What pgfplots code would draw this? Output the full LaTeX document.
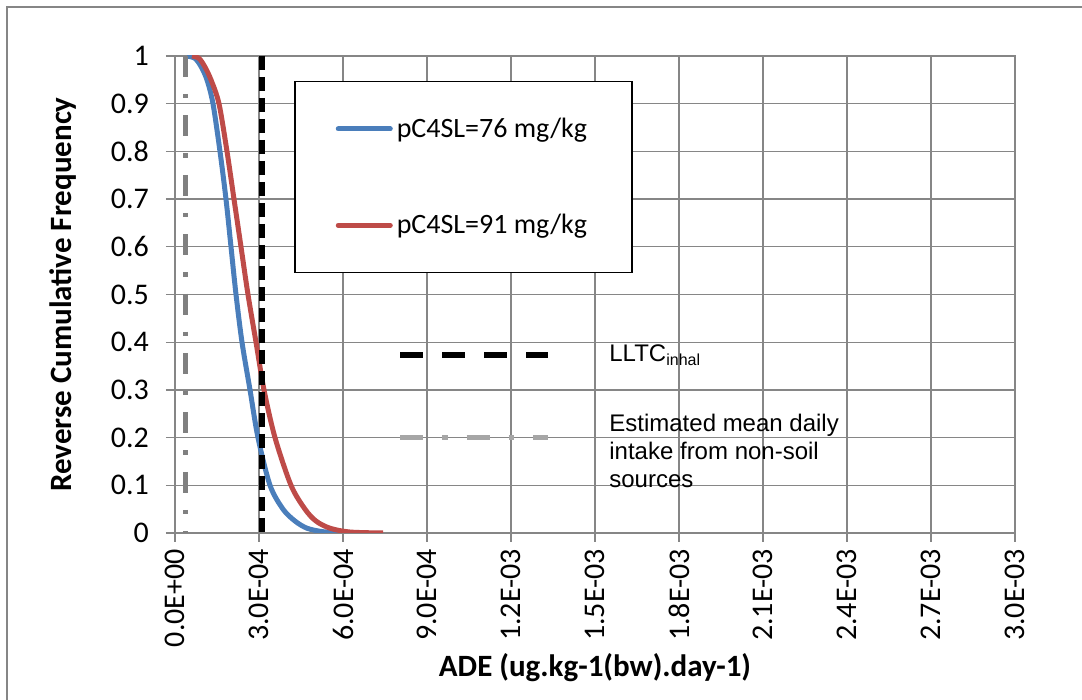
\documentclass[border=0pt]{standalone}
\usepackage{fontspec}
\setmainfont{Carlito}
\newfontfamily\arial{Liberation Sans}
\usepackage{pgfplots}
\pgfplotsset{compat=1.18}
\definecolor{gridgray}{RGB}{134,134,134}
\definecolor{xlblue}{RGB}{74,126,187}
\definecolor{xlred}{RGB}{190,75,72}
\definecolor{darkgr}{RGB}{128,128,128}
\definecolor{lightgr}{RGB}{166,166,166}
\begin{document}
\begin{tikzpicture}
\useasboundingbox (0,0) rectangle (541pt,350pt);
\draw[gridgray, line width=1pt] (3.5pt,0) -- (3.5pt,346.5pt) -- (541pt,346.5pt);
\begin{axis}[
  at={(87.5pt,83.5pt)}, anchor=south west,
  scale only axis, width=420pt, height=238.5pt,
  xmin=0, xmax=0.003, ymin=0, ymax=1,
  xtick={0,0.0003,0.0006,0.0009,0.0012,0.0015,0.0018,0.0021,0.0024,0.0027,0.003},
  xticklabels={0.0E+00,3.0E-04,6.0E-04,9.0E-04,1.2E-03,1.5E-03,1.8E-03,2.1E-03,2.4E-03,2.7E-03,3.0E-03},
  scaled x ticks=false,
  ytick={0,0.1,0.2,0.3,0.4,0.5,0.6,0.7,0.8,0.9,1},
  yticklabels={0,0.1,0.2,0.3,0.4,0.5,0.6,0.7,0.8,0.9,1},
  grid=major,
  grid style={gridgray, line width=0.65pt},
  axis line style={gridgray, line width=0.65pt},
  tick style={gridgray, line width=0.65pt},
  tick align=outside, major tick length=4.5pt,
  xtick pos=bottom, ytick pos=left,
  /pgf/number format/assume math mode=true,
  tick label style={font=\fontsize{15}{17}\selectfont},
  xticklabel style={rotate=90, anchor=east, xshift=0pt, yshift=0pt},
  yticklabel style={anchor=east, xshift=-5pt},
  xlabel={ADE (ug.kg-1(bw).day-1)},
  ylabel={Reverse Cumulative Frequency},
  label style={font=\fontsize{15.5}{18}\selectfont\bfseries},
  xlabel style={at={(axis description cs:0.5,-0.283)}, anchor=center},
  ylabel style={at={(axis description cs:-0.1333,0.5)}, anchor=center},
  legend style={at={(0.1417,0.9476)}, anchor=north west, draw=black, line width=0.75pt,
    fill=white, inner xsep=20.5pt, inner ysep=16pt, row sep=33pt,
    font=\fontsize{14}{16}\selectfont},
  legend cell align=left,
  legend image code/.code={\draw[#1, line cap=round] (0pt,0pt) -- (26pt,0pt);},
]
\addplot[xlblue, line width=2.5pt, smooth, tension=0.5, line join=round] coordinates {
(4.29e-5,1.0) (7.14e-5,0.995) (9.3e-5,0.978) (1.143e-4,0.95) (1.357e-4,0.9)
(1.607e-4,0.8) (1.821e-4,0.7) (2.0e-4,0.6) (2.179e-4,0.5) (2.393e-4,0.4)
(2.679e-4,0.3) (2.964e-4,0.2) (3.393e-4,0.1) (3.857e-4,0.05) (4.286e-4,0.025)
(4.714e-4,0.01) (5.25e-4,0.003) (5.893e-4,0.0)
};
\addlegendentry{pC4SL=76 mg/kg}
\addplot[xlred, line width=2.5pt, smooth, tension=0.5, line join=round] coordinates {
(6.07e-5,1.0) (8.57e-5,0.995) (1.06e-4,0.978) (1.286e-4,0.95) (1.571e-4,0.9)
(1.857e-4,0.8) (2.107e-4,0.7) (2.357e-4,0.6) (2.607e-4,0.5) (2.893e-4,0.4)
(3.179e-4,0.3) (3.571e-4,0.2) (4.143e-4,0.1) (4.643e-4,0.05) (5.036e-4,0.025)
(5.536e-4,0.01) (6.25e-4,0.002) (7.429e-4,0.0)
};
\addlegendentry{pC4SL=91 mg/kg}
\addplot[darkgr, line width=2.5pt, dash pattern=on 10.5pt off 8.5pt on 2.2pt off 8.5pt, forget plot] coordinates {(3.6e-5,1) (3.6e-5,0)};
\addplot[black, line width=3pt, dash pattern=on 7pt off 3.5pt, forget plot] coordinates {(3.1e-4,1) (3.1e-4,0)};
% legend keys for the reference lines
\draw[black, line width=3pt, dash pattern=on 11.5pt off 9.5pt] (axis cs:8.04e-4,0.373) -- (axis cs:1.332e-3,0.373);
\draw[lightgr, line width=2.5pt, dash pattern=on 11.5pt off 9.5pt on 2.8pt off 9.5pt] (axis cs:8.04e-4,0.201) -- (axis cs:1.332e-3,0.201);
\node[anchor=west, inner sep=0pt, font=\arial\fontsize{12}{14}\selectfont] at (axis cs:1.55e-3,0.373) {LLTC\textsubscript{\fontsize{8}{9}\selectfont inhal}};
\node[anchor=north west, inner sep=0pt, align=left, font=\arial\fontsize{12}{14}\selectfont] at (axis cs:1.55e-3,0.25) {Estimated mean daily\\intake from non-soil\\sources};
\end{axis}
\end{tikzpicture}
\end{document}
